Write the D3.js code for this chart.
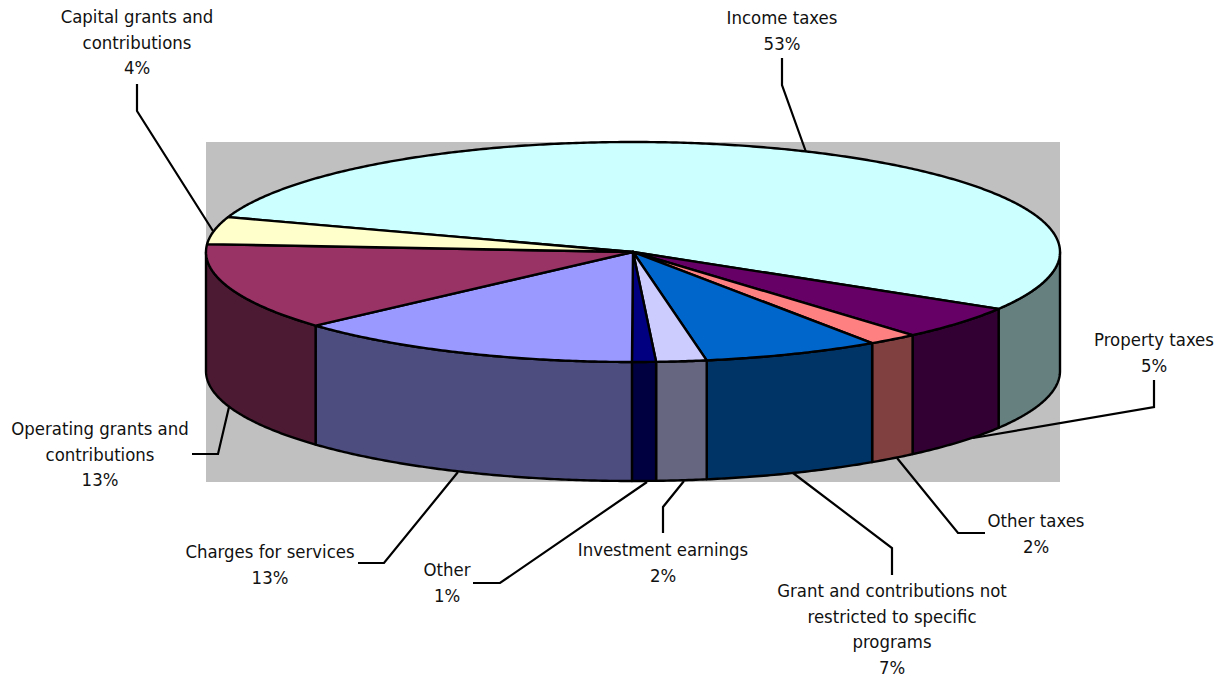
<!DOCTYPE html>
<html><head><meta charset="utf-8">
<script src="https://cdn.jsdelivr.net/npm/d3@7"></script>
<style>html,body{margin:0;padding:0;background:#fff}svg{display:block}
text{font-family:"DejaVu Sans",sans-serif;font-stretch:condensed;font-size:18.4px;fill:#111}</style>
</head><body><svg width="1228" height="679"></svg>
<script>
const categories=["Income taxes","Property taxes","Other taxes","Grant and contributions not restricted to specific programs","Investment earnings","Other","Charges for services","Operating grants and contributions","Capital grants and contributions"];
const values=[53.5,5.0,1.9,6.7,1.9,0.9,13.3,12.8,4.0];
const percentLabels=["53%","5%","2%","7%","2%","1%","13%","13%","4%"];
const topColors=["#CCFFFF","#660066","#FF8080","#0066CC","#CCCCFF","#000080","#9999FF","#993366","#FFFFCC"];
const wallColors=["#668080","#330033","#804040","#003366","#666680","#000040","#4D4D80","#4D1A33","#808066"];
const labelLines=[["Income taxes"],["Property taxes"],["Other taxes"],["Grant and contributions not","restricted to specific","programs"],["Investment earnings"],["Other"],["Charges for services"],["Operating grants and","contributions"],["Capital grants and","contributions"]];

// layout
const W=1228,H=679,depth=119,rad=Math.PI/180;
const plot={x0:206,x1:1060,y0:142,y1:482};
const labelPos=[[782,18],[1154,340],[1036,521],[892,591],[663,550],[447,570],[270,552],[100,429],[137,17]];
const leaders=[
 [[782,58],[782,85],[806,152]],
 [[1154,380],[1154,407],[973,438]],
 [[985,533],[958,533],[897,458]],
 [[892,575],[892,548],[793,473]],
 [[663,533],[663,507],[684,481]],
 [[473,583],[500,583],[647,482]],
 [[358,563],[384,563],[458,472]],
 [[192,454],[218,454],[229,407]],
 [[137,84],[137,111],[213,231]]];

const x=d3.scaleLinear().domain([-1,1]).range([206,1060]);
const y=d3.scaleLinear().domain([-1,1]).range([142,362]);
const svg=d3.select("svg");
const line=d3.line();
const px=t=>[x(Math.cos(t)),y(Math.sin(t))];
const arcPts=(a,b)=>{const n=Math.max(2,Math.ceil((b-a)/(0.5*rad)));return d3.range(n+1).map(i=>px(a+(b-a)*i/n));};

const start=198.5*rad; // screen angle, clockwise from +x
const arcs=d3.pie().sort(null).startAngle(start).endAngle(start+2*Math.PI)(values);

svg.append("rect").attr("x",plot.x0).attr("y",plot.y0).attr("width",plot.x1-plot.x0).attr("height",plot.y1-plot.y0).attr("fill","#C0C0C0");

// walls
const wallG=svg.append("g");
arcs.forEach((d,i)=>{
  [[0,Math.PI],[2*Math.PI,3*Math.PI]].forEach(([lo,hi])=>{
    const a=Math.max(d.startAngle,lo),b=Math.min(d.endAngle,hi);
    if(b<=a) return;
    const upper=arcPts(a,b);
    const lower=upper.map(p=>[p[0],p[1]+depth]).reverse();
    wallG.append("path").attr("d",line(upper.concat(lower))+"Z")
      .attr("fill",wallColors[i]).attr("stroke","#000").attr("stroke-width",2.4).attr("stroke-linejoin","round");
  });
});

// top
const topG=svg.append("g");
arcs.forEach((d,i)=>{
  topG.append("path").attr("d",line([[x(0),y(0)]].concat(arcPts(d.startAngle,d.endAngle)))+"Z")
    .attr("fill",topColors[i]).attr("stroke","#000").attr("stroke-width",2.4).attr("stroke-linejoin","round");
});

// leaders
leaders.forEach(l=>svg.append("path").attr("d",line(l)).attr("fill","none").attr("stroke","#000").attr("stroke-width",2.2));

// labels
categories.forEach((c,i)=>{
  const lines=labelLines[i].concat(percentLabels[i]);
  const t=svg.append("text").attr("text-anchor","middle");
  lines.forEach((s,j)=>t.append("tspan").attr("x",labelPos[i][0]).attr("y",labelPos[i][1]+j*25.5).attr("dy","0.35em").text(s));
});
</script></body></html>
